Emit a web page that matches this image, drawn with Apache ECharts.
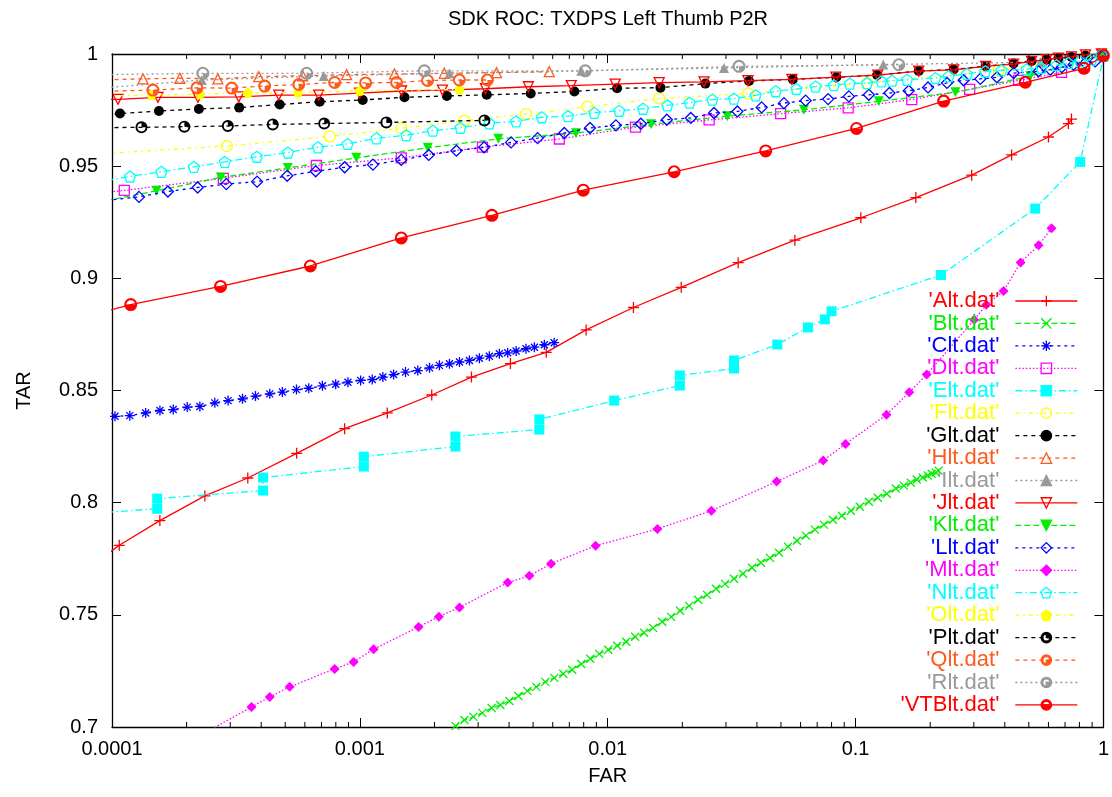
<!DOCTYPE html>
<html><head><meta charset="utf-8">
<script src="https://cdn.jsdelivr.net/npm/echarts@6/dist/echarts.min.js"></script>
<style>html,body{margin:0;padding:0;background:#fff}#c{width:1112px;height:797px}</style>
</head><body><div id="c"></div>
<script>
// ---------- tick labels ----------
const xTickLabels = ['0.0001', '0.001', '0.01', '0.1', '1'];
const yTickLabels = ['0.7', '0.75', '0.8', '0.85', '0.9', '0.95', '1'];
const xMinorTicks = [2e-4,3e-4,4e-4,5e-4,6e-4,7e-4,8e-4,9e-4,
  2e-3,3e-3,4e-3,5e-3,6e-3,7e-3,8e-3,9e-3,
  2e-2,3e-2,4e-2,5e-2,6e-2,7e-2,8e-2,9e-2,
  0.2,0.3,0.4,0.5,0.6,0.7,0.8,0.9];

// ---------- series names ----------
const seriesNames = ["'Alt.dat'","'Blt.dat'","'Clt.dat'","'Dlt.dat'","'Elt.dat'","'Flt.dat'","'Glt.dat'","'Hlt.dat'","'Ilt.dat'","'Jlt.dat'","'Klt.dat'","'Llt.dat'","'Mlt.dat'","'Nlt.dat'","'Olt.dat'","'Plt.dat'","'Qlt.dat'","'Rlt.dat'","'VTBlt.dat'"];

// ---------- data (FAR, TAR) ----------
const aFar = [9.5e-5,1.07e-4,1.56e-4,2.37e-4,3.53e-4,5.56e-4,8.68e-4,1.29e-3,1.95e-3,2.82e-3,4.05e-3,5.65e-3,8.18e-3,0.0127,0.0198,0.0336,0.0569,0.105,0.175,0.294,0.426,0.600,0.722,0.743];
const aTar = [0.7768,0.781,0.792,0.803,0.811,0.822,0.833,0.840,0.848,0.856,0.862,0.867,0.877,0.887,0.896,0.907,0.917,0.927,0.936,0.946,0.955,0.963,0.969,0.971];

const bFar = [2.24e-3,2.43e-3,2.64e-3,2.87e-3,3.12e-3,3.40e-3,3.69e-3,4.01e-3,4.36e-3,4.74e-3,5.15e-3,5.60e-3,6.09e-3,6.62e-3,7.19e-3,7.82e-3,8.50e-3,9.24e-3,0.01005,0.01092,0.01187,0.0129,0.01403,0.01525,0.01658,0.01802,0.01959,0.0213,0.02315,0.02517,0.02736,0.02974,0.03233,0.03515,0.03821,0.04153,0.04515,0.04908,0.05336,0.058,0.06305,0.06854,0.07451,0.081,0.08805,0.0957,0.104,0.1131,0.1229,0.1336,0.1453,0.1565,0.167,0.1765,0.1866,0.1954,0.2028,0.2105,0.2164];
const bTar = [0.6978,0.7005,0.7031,0.7045,0.7063,0.7085,0.7098,0.7116,0.7138,0.7161,0.7179,0.7201,0.7219,0.7237,0.7255,0.7281,0.7304,0.7326,0.7344,0.7362,0.7380,0.7402,0.7420,0.7442,0.7469,0.7491,0.7518,0.7540,0.7567,0.7589,0.7616,0.7638,0.7661,0.7683,0.7710,0.7732,0.7754,0.7777,0.7804,0.7830,0.7853,0.7880,0.7902,0.7924,0.7942,0.7964,0.7982,0.8004,0.8022,0.8040,0.8063,0.8076,0.8089,0.8103,0.8112,0.8121,0.8129,0.8134,0.8143];

const cFar = [9.5e-5,1.028e-4,1.18e-4,1.367e-4,1.561e-4,1.766e-4,2.011e-4,2.262e-4,2.599e-4,2.941e-4,3.362e-4,3.793e-4,4.33e-4,4.87e-4,5.55e-4,6.22e-4,7.06e-4,7.99e-4,8.95e-4,1.007e-3,1.122e-3,1.238e-3,1.368e-3,1.528e-3,1.713e-3,1.910e-3,2.094e-3,2.299e-3,2.523e-3,2.767e-3,3.036e-3,3.33e-3,3.655e-3,3.948e-3,4.27e-3,4.68e-3,5.06e-3,5.55e-3,6.08e-3];
const cTar = [0.8380,0.8385,0.8388,0.8400,0.8411,0.8415,0.8426,0.8429,0.8445,0.8455,0.8463,0.8475,0.8485,0.8493,0.8504,0.8510,0.8521,0.8528,0.8537,0.8545,0.8549,0.8560,0.8571,0.8582,0.8589,0.8601,0.8612,0.8619,0.8627,0.8634,0.8644,0.8653,0.8664,0.8668,0.8676,0.8686,0.8693,0.8704,0.8713];

const dFar = [9.5e-5,1.121e-4,2.813e-4,6.675e-4,1.469e-3,3.123e-3,6.378e-3,0.01294,0.02565,0.04987,0.09333,0.1685,0.2886,0.4546,0.6773];
const dTar = [0.9383,0.9392,0.9446,0.9503,0.9537,0.9585,0.9621,0.9674,0.9706,0.9734,0.9760,0.9797,0.9842,0.9882,0.9918];

const eFar = [9.5e-5,1.522e-4,1.522e-4,4.069e-4,4.069e-4,1.038e-3,1.038e-3,2.43e-3,2.43e-3,5.299e-3,5.299e-3,0.01062,0.01954,0.01954,0.03233,0.03233,0.04831,0.06424,0.07518,0.08001,0.2212,0.5307,0.8058,1.0];
const eTar = [0.7957,0.7973,0.8018,0.8054,0.8112,0.8161,0.8205,0.8250,0.8295,0.8326,0.8371,0.8455,0.8522,0.8567,0.8598,0.8634,0.8705,0.8781,0.8817,0.8853,0.9015,0.9311,0.9519,0.9987];

const fFar = [9.5e-5,2.905e-4,7.553e-4,1.469e-3,2.642e-3,4.683e-3,8.29e-3,0.01613,0.0369,0.1113,0.378,1.0];
const fTar = [0.9557,0.9590,0.9632,0.9669,0.9703,0.9732,0.9765,0.9802,0.9824,0.9870,0.9928,0.9995];

const gFar = [9.5e-5,1.077e-4,1.547e-4,2.241e-4,3.26e-4,4.75e-4,6.885e-4,1.027e-3,1.514e-3,2.245e-3,3.25e-3,4.89e-3,7.34e-3,0.01091,0.01632,0.02477,0.03715,0.05582,0.0836,0.1222,0.1798,0.2488,0.3347,0.4341,0.5129,0.5894,0.6588,0.7432,0.8465,0.9815];
const gTar = [0.9727,0.9735,0.9746,0.9755,0.9761,0.9775,0.9787,0.9795,0.9807,0.9813,0.9818,0.9824,0.9833,0.9847,0.9850,0.9868,0.9880,0.9887,0.9896,0.9906,0.9924,0.9931,0.9946,0.9958,0.9969,0.9975,0.9982,0.9987,0.9993,1.0];

const hFar = [9.5e-5,1.333e-4,1.879e-4,2.673e-4,3.91e-4,5.88e-4,8.84e-4,1.38e-3,2.19e-3,3.56e-3,5.81e-3];
const hTar = [0.9885,0.9889,0.9892,0.9889,0.9899,0.9903,0.9908,0.9911,0.9914,0.9917,0.9921];

const iFar = [9.5e-5,2.304e-4,7.15e-4,2.299e-3,7.82e-3,0.02945,0.1294,0.5574];
const iTar = [0.9850,0.9884,0.9902,0.9914,0.9925,0.9938,0.9953,0.9964];

const jFar = [9.5e-5,1.057e-4,1.532e-4,2.221e-4,3.248e-4,4.707e-4,6.822e-4,9.98e-4,1.473e-3,2.154e-3,3.211e-3,4.784e-3,7.129e-3,0.01072,0.01613,0.02447,0.03681,0.05536,0.08326,0.1229,0.1798,0.2488,0.3347,0.4341,0.5129,0.5894,0.6587,0.7432,0.8465,0.9815];
const jTar = [0.9797,0.9798,0.9807,0.9807,0.9809,0.9817,0.9817,0.9826,0.9835,0.9839,0.9845,0.9854,0.9859,0.9866,0.9872,0.9876,0.9881,0.9887,0.9897,0.9906,0.9924,0.9929,0.9945,0.9955,0.9967,0.9975,0.9982,0.9987,0.9996,1.0];

const kFar = [9.5e-5,1.511e-4,2.749e-4,5.117e-4,9.676e-4,1.88e-3,3.622e-3,7.445e-3,0.01497,0.03038,0.06187,0.1241,0.2527,0.5068,1.0];
const kTar = [0.9347,0.9390,0.9450,0.9492,0.9537,0.9582,0.9622,0.9647,0.9687,0.9723,0.9751,0.9789,0.9829,0.9901,0.9995];

const lFar = [9.5e-5,1.285e-4,1.681e-4,2.216e-4,2.893e-4,3.849e-4,5.092e-4,6.634e-4,8.683e-4,1.129e-3,1.469e-3,1.896e-3,2.453e-3,3.171e-3,4.074e-3,5.215e-3,6.68e-3,8.48e-3,0.01079,0.0136,0.01732,0.02164,0.02685,0.03334,0.04179,0.0514,0.06287,0.0775,0.09393,0.1131,0.137,0.1639,0.196,0.2338,0.2729,0.3187,0.3717,0.4341,0.5473,0.6101,0.6792,0.7572,0.8439,0.9261,0.9908];
const lTar = [0.9347,0.9363,0.9387,0.9405,0.9420,0.9431,0.9457,0.9477,0.9495,0.9507,0.9528,0.9550,0.9569,0.9584,0.9606,0.9625,0.9648,0.9670,0.9682,0.9689,0.9707,0.9715,0.9737,0.9744,0.9762,0.9781,0.9792,0.9799,0.9811,0.9818,0.9826,0.9836,0.9851,0.9871,0.9883,0.9889,0.9896,0.9915,0.9923,0.9930,0.9941,0.9952,0.9960,0.9967,0.9990];

const mFar = [2.062e-4,3.654e-4,4.33e-4,5.212e-4,7.91e-4,9.437e-4,1.136e-3,1.725e-3,2.083e-3,2.523e-3,3.948e-3,4.829e-3,5.906e-3,8.933e-3,0.01587,0.0262,0.04803,0.07403,0.09111,0.1333,0.1646,0.1936,0.3008,0.3369,0.3955,0.4632,0.5473,0.6173];
const mTar = [0.6937,0.7089,0.7134,0.7179,0.7259,0.7290,0.7347,0.7446,0.7492,0.7533,0.7644,0.7674,0.7728,0.7808,0.7883,0.7964,0.8094,0.8188,0.8262,0.8392,0.8492,0.8571,0.8815,0.8882,0.8943,0.9071,0.9147,0.9223];

const nFar = [9.5e-5,1.182e-4,1.583e-4,2.14e-4,2.853e-4,3.838e-4,5.126e-4,6.776e-4,8.928e-4,1.168e-3,1.539e-3,1.97e-3,2.546e-3,3.332e-3,4.268e-3,5.422e-3,6.914e-3,8.826e-3,0.01113,0.01388,0.01741,0.0214,0.02644,0.03233,0.03954,0.04761,0.05772,0.06898,0.08174,0.09479,0.1113,0.1272,0.1404,0.1613,0.2099,0.2375,0.2815,0.3338,0.3882,0.4896,0.5628,0.6468,0.7228,0.8056,0.8948,0.9815];
const nTar = [0.9436,0.9454,0.9475,0.9497,0.9519,0.9542,0.9561,0.9584,0.9599,0.9624,0.9638,0.9658,0.9671,0.9691,0.9700,0.9718,0.9723,0.9738,0.9747,0.9756,0.9771,0.9783,0.9797,0.9801,0.9816,0.9834,0.9844,0.9855,0.9861,0.9868,0.9870,0.9878,0.9881,0.9885,0.9893,0.9901,0.9911,0.9923,0.9927,0.9932,0.9938,0.9950,0.9960,0.9967,0.9975,0.9996];

const oFar = [9.5e-5,1.445e-4,2.262e-4,3.54e-4,5.63e-4,9.98e-4,2.523e-3];
const oTar = [0.9813,0.9817,0.9821,0.9827,0.9828,0.9836,0.9842];

const pFar = [9.5e-5,1.315e-4,1.959e-4,2.933e-4,4.452e-4,7.18e-4,1.279e-3,3.18e-3];
const pTar = [0.9672,0.9673,0.9676,0.9679,0.9686,0.9690,0.9695,0.9704];

const qFar = [9.5e-5,1.463e-4,2.20e-4,3.04e-4,4.13e-4,5.67e-4,7.91e-4,1.055e-3,1.406e-3,1.875e-3,2.52e-3,3.27e-3];
const qTar = [0.9834,0.9839,0.9849,0.9848,0.9857,0.9864,0.9873,0.9871,0.9873,0.9882,0.9884,0.9884];

const rFar = [9.5e-5,2.326e-4,6.1e-4,1.82e-3,8.12e-3,0.03387,0.1494];
const rTar = [0.9908,0.9914,0.9914,0.9925,0.9925,0.9945,0.9952];

const vtbFar = [9.5e-5,1.19e-4,2.741e-4,6.315e-4,1.469e-3,3.41e-3,7.965e-3,0.01853,0.04338,0.1009,0.2267,0.4837,0.8346,1.0];
const vtbTar = [0.8854,0.8883,0.8964,0.9055,0.9180,0.9281,0.9393,0.9475,0.9568,0.9668,0.9790,0.9874,0.9936,0.9993];

const seriesData = [[aFar,aTar],[bFar,bTar],[cFar,cTar],[dFar,dTar],[eFar,eTar],[fFar,fTar],[gFar,gTar],[hFar,hTar],[iFar,iTar],[jFar,jTar],[kFar,kTar],[lFar,lTar],[mFar,mTar],[nFar,nTar],[oFar,oTar],[pFar,pTar],[qFar,qTar],[rFar,rTar],[vtbFar,vtbTar]];

// ---------- styles ----------
const PLUS = 'path://M5,0L5,10M0,5L10,5';
const CROSS = 'path://M0,0L10,10M10,0L0,10';
const STAR = 'path://M5,0L5,10M0,5L10,5M1.5,1.5L8.5,8.5M8.5,1.5L1.5,8.5';
const PENT = 'path://M5,0L9.76,3.45L7.94,9.05L2.06,9.05L0.24,3.45Z';
const RING = 'M0,5A5,5,0,1,1,10,5A5,5,0,1,1,0,5ZM1.6,5A3.4,3.4,0,1,0,8.4,5A3.4,3.4,0,1,0,1.6,5Z';
const RING_HALF = 'path://' + RING + 'M1.6,5A3.4,3.4,0,0,0,8.4,5Z';
const RING_QUAD = 'path://' + RING + 'M5,5L8.4,5A3.4,3.4,0,0,1,5,8.4Z';
const RING_QUAD2 = 'path://' + RING + 'M5,5L5,1.6A3.4,3.4,0,0,1,8.4,5Z';

const ORANGE = '#ff5a1e', GRAY = '#999999';
const styles = [
  {c:'#ff0000', dash:'solid',      sym:PLUS,  size:11, open:true},
  {c:'#00ee00', dash:[6,3],        sym:CROSS, size:8,  open:true},
  {c:'#0000ff', dash:[3,4],        sym:STAR,  size:10, open:true},
  {c:'#ff00ff', dash:[1.5,2],      sym:'rect',size:10, open:true},
  {c:'#00ffff', dash:[7,3,1.5,3],  sym:'rect',size:10, open:false},
  {c:'#ffff00', dash:[4,4,1.5,4],  sym:'circle',size:11, open:true},
  {c:'#000000', dash:[4,4],        sym:'circle',size:10, open:false},
  {c:ORANGE,    dash:[4,4],        sym:'triangle',size:10, open:true},
  {c:GRAY,      dash:[2,3],        sym:'triangle',size:10, open:false},
  {c:'#ff0000', dash:'solid',      sym:'triangle',size:10, open:true, rot:180},
  {c:'#00ee00', dash:[6,3],        sym:'triangle',size:10, open:false, rot:180},
  {c:'#0000ff', dash:[3,4],        sym:'diamond',size:11, open:true},
  {c:'#ff00ff', dash:[1.5,2],      sym:'diamond',size:10, open:false},
  {c:'#00ffff', dash:[7,3,1.5,3],  sym:PENT,  size:11, open:true},
  {c:'#ffff00', dash:[4,4,1.5,4],  sym:PENT,  size:10, open:false},
  {c:'#000000', dash:[4,4],        sym:RING_QUAD2, size:12, open:false},
  {c:ORANGE,    dash:[4,4],        sym:RING_QUAD, size:13, open:false},
  {c:GRAY,      dash:[2,3],        sym:RING_QUAD, size:13, open:false},
  {c:'#ff0000', dash:'solid',      sym:RING_HALF, size:13, open:false}
];

const FONT = 'Liberation Sans';

const series = seriesNames.map((name, i) => {
  const [far, tar] = seriesData[i];
  const st = styles[i];
  const n = Math.min(far.length, tar.length);
  const data = [];
  for (let k = 0; k < n; k++) data.push([far[k], tar[k]]);
  return {
    name: name, type: 'line', data: data, xAxisIndex: 0, yAxisIndex: 0,
    symbol: st.sym, symbolSize: st.size, symbolRotate: st.rot || 0,
    showSymbol: true, showAllSymbol: true, clip: true, smooth: false,
    lineStyle: {color: st.c, width: 1.3, type: st.dash},
    itemStyle: st.open ? {color: 'rgba(0,0,0,0)', borderColor: st.c, borderWidth: 1.3}
                       : {color: st.c, borderColor: st.c, borderWidth: 0},
    emphasis: {disabled: true}, silent: true, z: 2 + i * 0.01
  };
});

// minor log ticks (bottom and top)
series.push({
  type: 'custom', xAxisIndex: 0, yAxisIndex: 0, silent: true, z: 5,
  data: xMinorTicks.map(v => [v, 0.85]),
  renderItem: function (params, api) {
    const v = api.value(0);
    const b = api.coord([v, 0.7]);
    const t = api.coord([v, 1]);
    return {type: 'group', children: [
      {type: 'line', shape: {x1: b[0], y1: b[1], x2: b[0], y2: b[1] - 5}, style: {stroke: '#000', lineWidth: 1}},
      {type: 'line', shape: {x1: t[0], y1: t[1], x2: t[0], y2: t[1] + 5}, style: {stroke: '#000', lineWidth: 1}}
    ]};
  }
});

const axisLineStyle = {show: true, lineStyle: {color: '#000', width: 1.3}};
const chart = echarts.init(document.getElementById('c'), null, {renderer: 'canvas'});
chart.setOption({
  animation: false,
  backgroundColor: '#ffffff',
  title: {
    text: 'SDK ROC: TXDPS Left Thumb P2R', left: 608, top: 9, textAlign: 'center', padding: 0,
    textStyle: {fontFamily: FONT, fontSize: 20, fontWeight: 'normal', color: '#000'}
  },
  grid: {left: 112, right: 8, top: 54, bottom: 70, containLabel: false},
  xAxis: [
    {type: 'log', logBase: 10, min: 0.0001, max: 1, splitNumber: 4, position: 'bottom',
     name: 'FAR', nameLocation: 'middle', nameGap: 39,
     nameTextStyle: {fontFamily: FONT, fontSize: 20, color: '#000'},
     axisLine: axisLineStyle, axisTick: {show: true, inside: true, length: 9, lineStyle: {color: '#000', width: 1}},
     axisLabel: {show: true, margin: 12, fontFamily: FONT, fontSize: 20, color: '#000',
       formatter: v => xTickLabels[Math.round(Math.log10(v)) + 4]},
     splitLine: {show: false}},
    {type: 'log', logBase: 10, min: 0.0001, max: 1, splitNumber: 4, position: 'top',
     axisLine: axisLineStyle, axisTick: {show: true, inside: true, length: 9, lineStyle: {color: '#000', width: 1}},
     axisLabel: {show: false}, splitLine: {show: false}}
  ],
  yAxis: [
    {type: 'value', min: 0.7, max: 1, interval: 0.05, position: 'left',
     name: 'TAR', nameLocation: 'middle', nameGap: 78, nameRotate: 90,
     nameTextStyle: {fontFamily: FONT, fontSize: 20, color: '#000'},
     axisLine: axisLineStyle, axisTick: {show: true, inside: true, length: 9, lineStyle: {color: '#000', width: 1}},
     axisLabel: {show: true, margin: 14, fontFamily: FONT, fontSize: 20, color: '#000',
       formatter: v => yTickLabels[Math.round((v - 0.7) / 0.05)]},
     splitLine: {show: false}},
    {type: 'value', min: 0.7, max: 1, interval: 0.05, position: 'right',
     axisLine: axisLineStyle, axisTick: {show: true, inside: true, length: 9, lineStyle: {color: '#000', width: 1}},
     axisLabel: {show: false}, splitLine: {show: false}}
  ],
  legend: {
    orient: 'vertical', align: 'right', right: 34, top: 290, padding: 0,
    itemGap: 0.44, itemWidth: 62, itemHeight: 13, selectedMode: false,
    textStyle: {fontFamily: FONT, fontSize: 22, padding: [0, 11, 0, 0]},
    itemStyle: {borderWidth: 1.3}, lineStyle: {width: 1.3},
    data: seriesNames.map((n, i) => ({name: n, textStyle: {color: styles[i].c}}))
  },
  series: series
});
</script>
</body></html>
